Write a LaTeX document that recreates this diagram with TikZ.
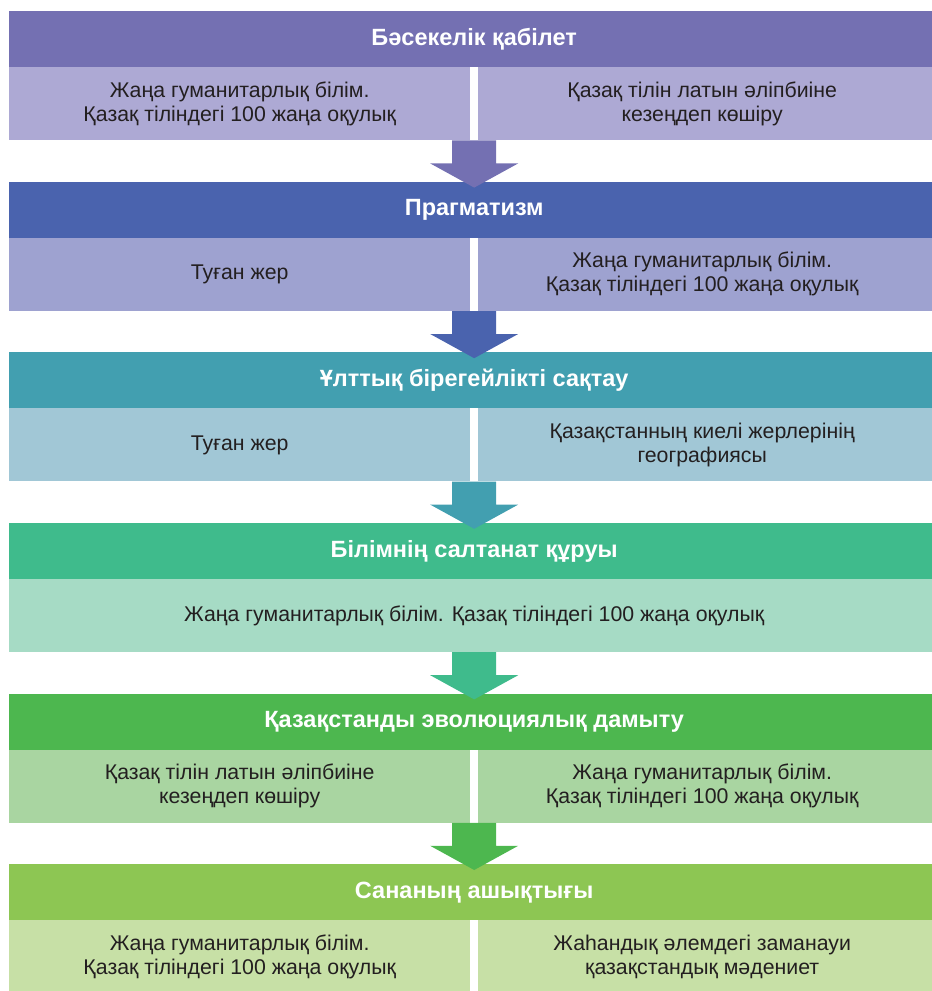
\documentclass[tikz,border=0pt]{standalone}
\usepackage{fontspec}
\setmainfont{Liberation Sans}
\usetikzlibrary{calc}
\definecolor{hA}{HTML}{7470B2}\definecolor{rA}{HTML}{ADA9D4}
\definecolor{hB}{HTML}{4A63AE}\definecolor{rB}{HTML}{9EA2D0}
\definecolor{hC}{HTML}{429FB0}\definecolor{rC}{HTML}{A1C7D6}
\definecolor{hD}{HTML}{3FBB8C}\definecolor{rD}{HTML}{A6DBC5}
\definecolor{hE}{HTML}{4DB74F}\definecolor{rE}{HTML}{A9D5A1}
\definecolor{hF}{HTML}{8DC653}\definecolor{rF}{HTML}{C7E0A6}
\definecolor{txt}{HTML}{231F20}
\begin{document}
\begin{tikzpicture}[x=1pt,y=-1pt,
  hdr/.style={anchor=north west, minimum width=930pt, minimum height=56pt, inner sep=0pt,
    font=\bfseries\fontsize{23.5}{27}\selectfont, text=white},
  pane/.style={anchor=north west, minimum width=461pt, minimum height=73pt, inner sep=0pt,
    font=\fontsize{21.3}{24}\selectfont, text=txt, align=center},
  wide/.style={pane, minimum width=930pt},
  ptext/.style={inner sep=0pt, font=\fontsize{21.3}{24}\selectfont, text=txt, align=center},
  blockarrow/.style={draw=none}]
\useasboundingbox (0,0) rectangle (932,991);
% block 1
\node[hdr, fill=hA] (h1) at (9,11) {Бәсекелік қабілет};
\node[pane, fill=rA] (l1) at (9,67) {Жаңа гуманитарлық білім.\\Қазақ тіліндегі 100 жаңа оқулық};
\node[pane, fill=rA] (r1) at (478,67) {};
\node[ptext] (r1t) at ($(r1.center)+(-6.5,0)$) {Қазақ тілін латын әліпбиіне\\кезеңдеп көшіру};
% block 2
\node[hdr, fill=hB] (h2) at (9,181.6) {Прагматизм};
\node[pane, fill=rB] (l2) at (9,237.6) {Туған жер};
\node[pane, fill=rB] (r2) at (478,237.6) {};
\node[ptext] (r2t) at ($(r2.center)+(-6.5,0)$) {Жаңа гуманитарлық білім.\\Қазақ тіліндегі 100 жаңа оқулық};
% block 3
\node[hdr, fill=hC] (h3) at (9,352.2) {Ұлттық бірегейлікті сақтау};
\node[pane, fill=rC] (l3) at (9,408.2) {Туған жер};
\node[pane, fill=rC] (r3) at (478,408.2) {};
\node[ptext] (r3t) at ($(r3.center)+(-6.5,0)$) {Қазақстанның киелі жерлерінің\\географиясы};
% block 4
\node[hdr, fill=hD] (h4) at (9,522.8) {Білімнің салтанат құруы};
\node[wide, fill=rD] (l4) at (9,578.8) {Жаңа гуманитарлық білім. Қазақ тіліндегі 100 жаңа оқулық};
% block 5
\node[hdr, fill=hE] (h5) at (9,693.4) {Қазақстанды эволюциялық дамыту};
\node[pane, fill=rE] (l5) at (9,749.4) {Қазақ тілін латын әліпбиіне\\кезеңдеп көшіру};
\node[pane, fill=rE] (r5) at (478,749.4) {};
\node[ptext] (r5t) at ($(r5.center)+(-6.5,0)$) {Жаңа гуманитарлық білім.\\Қазақ тіліндегі 100 жаңа оқулық};
% block 6
\node[hdr, fill=hF] (h6) at (9,864) {Сананың ашықтығы};
\node[pane, fill=rF] (l6) at (9,920) {Жаңа гуманитарлық білім.\\Қазақ тіліндегі 100 жаңа оқулық};
\node[pane, fill=rF] (r6) at (478,920) {};
\node[ptext] (r6t) at ($(r6.center)+(-6.5,0)$) {Жаһандық әлемдегі заманауи\\қазақстандық мәдениет};
% arrows
\foreach \u/\v/\row/\c in {h1/h2/l1/hA, h2/h3/l2/hB, h3/h4/l3/hC, h4/h5/l4/hD, h5/h6/l5/hE}{
  \coordinate (s) at (\row.south -| \u.north);
  \fill[blockarrow, fill=\c] ($(s)+(-22,0)$) -- ($(s)+(22,0)$) -- ($(s)+(22,23)$) -- ($(s)+(44,23)$)
    -- ($(\v.north)+(0,6)$) -- ($(s)+(-44,23)$) -- ($(s)+(-22,23)$) -- cycle;
}
\end{tikzpicture}
\end{document}
